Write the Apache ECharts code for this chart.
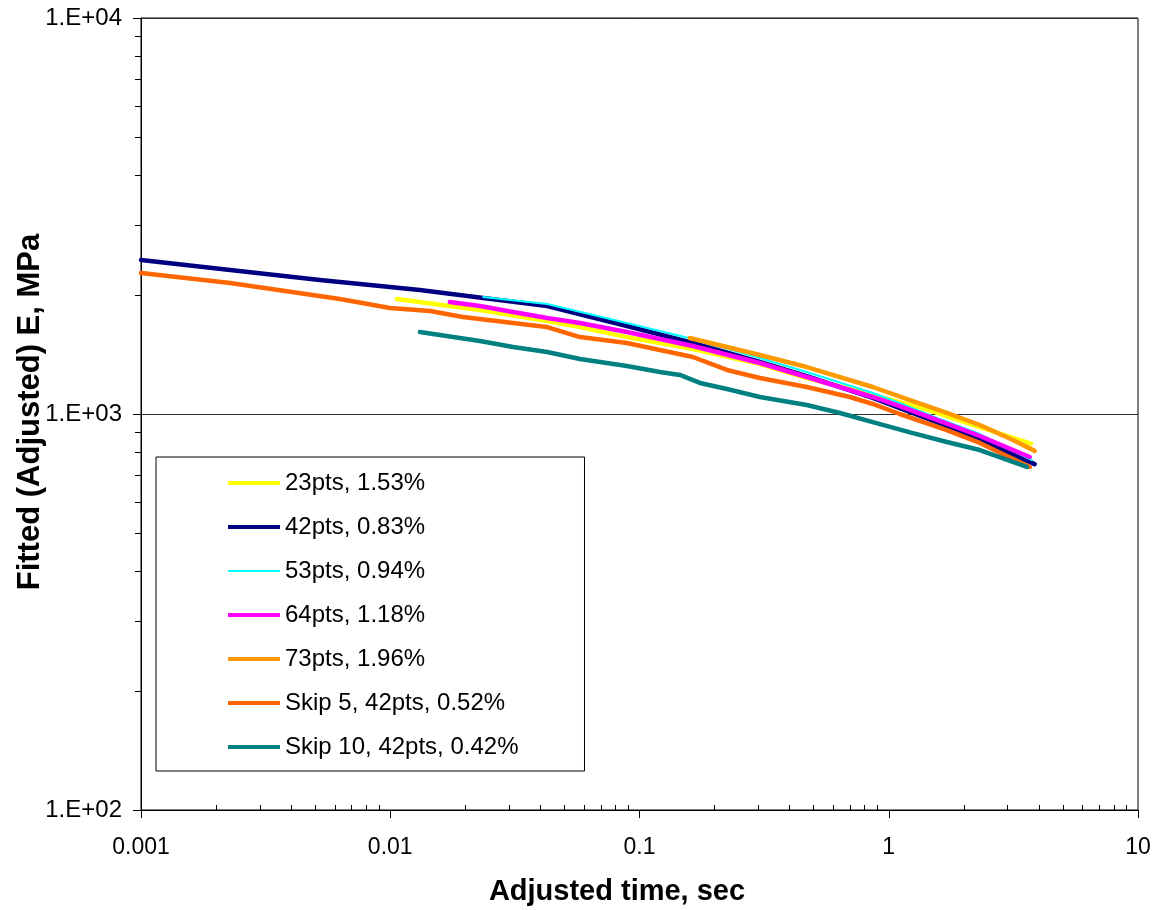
<!DOCTYPE html>
<html>
<head>
<meta charset="utf-8">
<script src="https://cdn.jsdelivr.net/npm/echarts@6/dist/echarts.min.js"></script>
<style>
  html, body { margin: 0; padding: 0; background: #fff; }
  #chart { width: 1157px; height: 910px; }
</style>
</head>
<body>
<div id="chart"></div>
<script>
// Fitted (adjusted) modulus vs adjusted time, one curve per fit
const seriesNames = [
  '23pts, 1.53%',
  '42pts, 0.83%',
  '53pts, 0.94%',
  '64pts, 1.18%',
  '73pts, 1.96%',
  'Skip 5, 42pts, 0.52%',
  'Skip 10, 42pts, 0.42%'
];
const seriesColors = ['#FFFF00', '#000080', '#00FFFF', '#FF00FF', '#FF9900', '#FF6600', '#008080'];
const seriesWidths = [4.5, 4.5, 2, 4.5, 4.5, 4.5, 4.5];

// time (sec) and modulus (MPa) for each fit
const time23 = [0.01064, 0.0229, 0.0426, 0.0577, 0.089, 0.1637, 0.304, 0.469, 0.863, 1.45, 2.32, 3.72];
const mod23  = [1952, 1830, 1717, 1658, 1564, 1459, 1337, 1233, 1117, 1023, 927, 842];

const time42 = [0.001, 0.00228, 0.00522, 0.01315, 0.0236, 0.0426, 0.089, 0.1637, 0.304, 0.469, 0.863, 1.107, 1.56, 2.32, 3.85];
const mod42  = [2448, 2311, 2180, 2057, 1963, 1874, 1668, 1511, 1353, 1247, 1098, 1035, 954, 860, 747];

const time53 = [0.0236, 0.0426, 0.089, 0.1637, 0.304, 0.469, 0.863, 1.107, 1.56, 2.32, 3.75];
const mod53  = [1975, 1896, 1697, 1547, 1385, 1277, 1130, 1066, 977, 890, 765];

const time64 = [0.01734, 0.0229, 0.0311, 0.0426, 0.0577, 0.089, 0.1637, 0.304, 0.469, 0.863, 1.107, 1.56, 2.32, 3.68];
const mod64  = [1918, 1874, 1809, 1747, 1697, 1611, 1485, 1345, 1240, 1104, 1047, 966, 880, 779];

const time73 = [0.159, 0.2244, 0.304, 0.469, 0.863, 1.249, 1.71, 2.32, 3.15, 3.85];
const mod73  = [1556, 1476, 1409, 1314, 1170, 1078, 1006, 938, 860, 807];

const timeSkip5 = [0.001, 0.00228, 0.00628, 0.00998, 0.01443, 0.0196, 0.0363, 0.0426, 0.0577, 0.089, 0.1637, 0.2244, 0.304, 0.469, 0.698, 0.863, 1.107, 1.71, 2.32, 3.68];
const modSkip5  = [2270, 2142, 1952, 1852, 1820, 1758, 1677, 1658, 1564, 1511, 1393, 1292, 1233, 1170, 1104, 1060, 1000, 911, 845, 735];

const timeSkip10 = [0.01315, 0.0229, 0.0311, 0.0426, 0.0577, 0.089, 0.1208, 0.1452, 0.1747, 0.2244, 0.304, 0.469, 0.637, 0.863, 1.249, 1.71, 2.32, 3.58];
const modSkip10  = [1611, 1529, 1476, 1434, 1377, 1322, 1277, 1255, 1198, 1156, 1104, 1054, 1006, 954, 895, 850, 811, 735];

const seriesTimes = [time23, time42, time53, time64, time73, timeSkip5, timeSkip10];
const seriesMods  = [mod23, mod42, mod53, mod64, mod73, modSkip5, modSkip10];

const xTitle = 'Adjusted time, sec';
const yTitle = 'Fitted (Adjusted) E, MPa';

const FONT = "'Liberation Sans', Arial, sans-serif";

// legend swatches: a flat bar, thinner for the thin series
const thickBar = 'path://M0,5 L52,5 L52,9 L0,9 Z';
const thinBar  = 'path://M0,6 L52,6 L52,8 L0,8 Z';

const chart = echarts.init(document.getElementById('chart'), null, { renderer: 'canvas' });

const series = seriesNames.map((name, i) => ({
  name: name,
  type: 'line',
  xAxisIndex: 0,
  yAxisIndex: 0,
  symbol: 'none',
  smooth: false,
  clip: true,
  color: seriesColors[i],
  lineStyle: { color: seriesColors[i], width: seriesWidths[i], cap: 'round', join: 'round' },
  z: 3 + i,
  data: seriesTimes[i].map((t, k) => [t, seriesMods[i][k]])
}));

const option = {
  backgroundColor: '#ffffff',
  animation: false,
  textStyle: { fontFamily: FONT },
  grid: {
    left: 141, right: 19, top: 18, bottom: 100,
    show: true, borderColor: '#000', borderWidth: 1, backgroundColor: 'transparent'
  },
  xAxis: [
    {
      type: 'log', logBase: 10, min: 0.001, max: 10, position: 'bottom',
      axisLine: { show: true, lineStyle: { color: '#000', width: 1 } },
      axisTick: { show: true, length: 8, inside: false, lineStyle: { color: '#000' } },
      minorTick: { show: false },
      splitLine: { show: false },
      axisLabel: {
        color: '#000', fontSize: 23, fontFamily: FONT, margin: 26,
        formatter: v => String(+Number(v).toPrecision(1))
      }
    },
    {
      // companion axis carrying the small inward ticks between decades
      type: 'log', logBase: 10, min: 0.001, max: 10, position: 'bottom',
      axisLine: { show: false },
      axisTick: { show: false, inside: true },
      minorTick: { show: true, splitNumber: 9, length: 5, lineStyle: { color: '#000', width: 1 } },
      splitLine: { show: false },
      axisLabel: { show: false }
    }
  ],
  yAxis: {
    type: 'log', logBase: 10, min: 100, max: 10000,
    axisLine: { show: true, lineStyle: { color: '#000', width: 1 } },
    axisTick: { show: true, length: 8, inside: false, lineStyle: { color: '#000' } },
    minorTick: { show: true, splitNumber: 9, length: 6, lineStyle: { color: '#000', width: 1 } },
    splitLine: { show: true, lineStyle: { color: '#333', width: 1.2 } },
    axisLabel: {
      color: '#000', fontSize: 24, fontFamily: FONT, margin: 19,
      formatter: v => '1.E+' + String(Math.round(Math.log10(v))).padStart(2, '0')
    }
  },
  legend: {
    orient: 'vertical',
    left: 156, top: 457,
    padding: [14, 66, 12, 72],
    backgroundColor: '#fff',
    borderColor: '#000', borderWidth: 1,
    itemWidth: 52, itemHeight: 14, itemGap: 20,
    textStyle: { color: '#000', fontSize: 24, fontFamily: FONT, lineHeight: 24 },
    data: seriesNames.map((name, i) => ({ name: name, icon: seriesWidths[i] < 3 ? thinBar : thickBar }))
  },
  graphic: [
    {
      type: 'text', x: 617, y: 892,
      style: { text: xTitle, fill: '#000', font: 'bold 29px ' + FONT, textAlign: 'center', textVerticalAlign: 'middle' }
    },
    {
      type: 'text', x: 30, y: 412, rotation: Math.PI / 2,
      style: { text: yTitle, fill: '#000', font: 'bold 31px ' + FONT, textAlign: 'center', textVerticalAlign: 'middle' }
    }
  ],
  series: series
};

chart.setOption(option);
</script>
</body>
</html>
